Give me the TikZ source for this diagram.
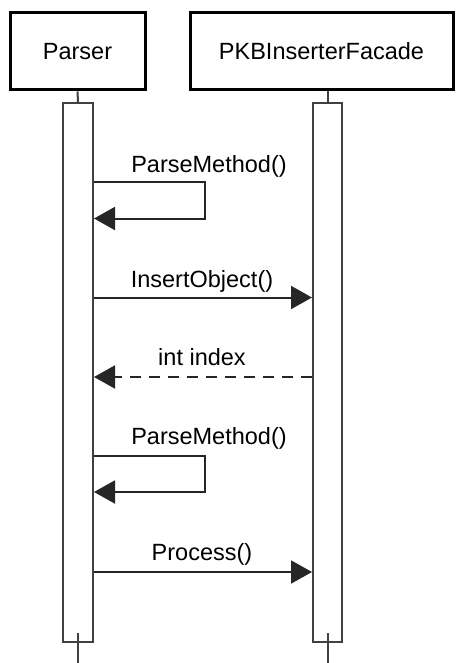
\documentclass[tikz,border=0pt]{standalone}
\usepackage{fontspec}
\setmainfont{Liberation Sans}
\usetikzlibrary{arrows.meta}
\begin{document}
\begin{tikzpicture}[x=1pt,y=-1pt,
  actor/.style={draw=black,line width=3pt,fill=white,inner sep=0pt,font=\fontsize{23.5}{26}\selectfont},
  act/.style={draw=black!75,line width=2pt,fill=white,inner sep=0pt,minimum height=539pt},
  life/.style={draw=black!75,line width=2pt},
  msg/.style={draw=black!85,line width=2pt,-{Triangle[length=21pt,width=23pt]}},
  ret/.style={msg,dash pattern=on 11pt off 8pt},
  lbl/.style={anchor=base,inner sep=0pt,font=\fontsize{23.5}{26}\selectfont}]
\useasboundingbox (0,0) rectangle (455,663);
\node[actor,minimum width=135pt,minimum height=77pt] (parser) at (77.5,51.5) {Parser};
\node[actor,minimum width=263pt,minimum height=77pt] (pkb) at (321.5,51.5) {PKBInserterFacade};
\node[act,minimum width=30pt] (pa) at (78,372.5) {};
\node[act,minimum width=29pt] (ka) at (327.5,372.5) {};
\draw[life] (parser.south) -- (pa.north);
\draw[life] (pkb.south -| ka.north) -- (ka.north);
\coordinate (pend) at (78,663);
\coordinate (kend) at (327.5,663);
\draw[life] ([yshift=10pt]pa.south) -- (pend);
\draw[life] ([yshift=10pt]ka.south) -- (kend);
% self message 1
\coordinate (s1a) at (205,182);
\coordinate (s1b) at (205,218.5);
\draw[msg] (pa.east |- s1a) -- (s1a) -- (s1b) -- (pa.east |- s1b);
\node[lbl] (l1) at (209,172) {ParseMethod()};
% InsertObject
\coordinate (m2) at (0,297.5);
\draw[msg] (pa.east |- m2) -- (ka.west |- m2);
\node[lbl] (l2) at (202,287) {InsertObject()};
% int index
\coordinate (m3) at (0,377);
\draw[ret] (ka.west |- m3) -- (pa.east |- m3);
\node[lbl] (l3) at (202,365.5) {int index};
% self message 2
\coordinate (s2a) at (205,456);
\coordinate (s2b) at (205,492);
\draw[msg] (pa.east |- s2a) -- (s2a) -- (s2b) -- (pa.east |- s2b);
\node[lbl] (l4) at (209,444) {ParseMethod()};
% Process
\coordinate (m5) at (0,572);
\draw[msg] (pa.east |- m5) -- (ka.west |- m5);
\node[lbl] (l5) at (202,560) {Process()};
\end{tikzpicture}
\end{document}
